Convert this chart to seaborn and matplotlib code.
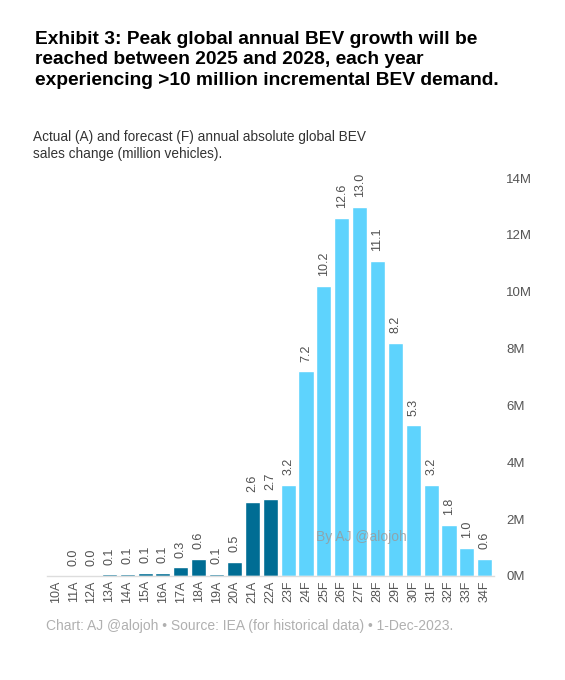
import pandas as pd
import numpy as np
import matplotlib.pyplot as plt
import seaborn as sns

# Data (million vehicles)
years = ['10A', '11A', '12A', '13A', '14A', '15A', '16A', '17A', '18A', '19A', '20A', '21A', '22A',
         '23F', '24F', '25F', '26F', '27F', '28F', '29F', '30F', '31F', '32F', '33F', '34F']
change = [0.0, 0.0, 0.0, 0.06, 0.08, 0.1, 0.1, 0.3, 0.6, 0.08, 0.5, 2.6, 2.7,
          3.2, 7.2, 10.2, 12.6, 13.0, 11.1, 8.2, 5.3, 3.2, 1.8, 1.0, 0.6]
bar_labels = ['', '0.0', '0.0', '0.1', '0.1', '0.1', '0.1', '0.3', '0.6', '0.1', '0.5', '2.6', '2.7',
              '3.2', '7.2', '10.2', '12.6', '13.0', '11.1', '8.2', '5.3', '3.2', '1.8', '1.0', '0.6']
period = ['Actual' if y.endswith('A') else 'Forecast' for y in years]
yticks = [0, 2, 4, 6, 8, 10, 12, 14]

df = pd.DataFrame({'year': years, 'change': change, 'period': period})

sns.set_theme(style='white')
plt.rcParams['font.family'] = ['Liberation Sans', 'DejaVu Sans']

fig = plt.figure(figsize=(5.65, 6.8), dpi=100)
ax = fig.add_axes([0.0828, 0.153, 0.791, 0.585])

sns.barplot(data=df, x='year', y='change', hue='period', dodge=False,
            palette={'Actual': '#006d94', 'Forecast': '#5ed3fd'},
            width=0.84, legend=False, ax=ax, saturation=1)

for patch, lab in zip(ax.patches, bar_labels):
    if not lab:
        continue
    x = patch.get_x() + patch.get_width() / 2
    ax.annotate(lab, (x, patch.get_height()), xytext=(0, 7), textcoords='offset points',
                rotation=90, ha='center', va='bottom', fontsize=9, color='#505050',
                annotation_clip=False)

ax.set_xlim(-0.5, len(years) - 0.5)
ax.set_ylim(0, 14)
ax.set_yticks(yticks)
ax.set_yticklabels([f'{v}M' for v in yticks])
ax.yaxis.tick_right()
ax.tick_params(axis='y', length=0, pad=9, labelsize=9.5, labelcolor='#555555')
ax.tick_params(axis='x', length=0, pad=3, labelsize=9, labelcolor='#555555', rotation=90)
ax.set_xlabel('')
ax.set_ylabel('')
for s in ['top', 'left', 'right']:
    ax.spines[s].set_visible(False)
ax.spines['bottom'].set_color('#dddddd')
ax.spines['bottom'].set_linewidth(1)

fig.text(0.062, 0.955, 'Exhibit 3: Peak global annual BEV growth will be\n'
         'reached between 2025 and 2028, each year\n'
         'experiencing >10 million incremental BEV demand.',
         fontsize=13.8, fontweight='bold', color='black', va='top', ha='left', linespacing=1.3)
fig.text(0.058, 0.809, 'Actual (A) and forecast (F) annual absolute global BEV\n'
         'sales change (million vehicles).',
         fontsize=9.8, color='#333333', va='top', ha='left', linespacing=1.3)
fig.text(0.56, 0.21, 'By AJ @alojoh', fontsize=10, color='#999999', alpha=0.8, ha='left', va='center')
fig.text(0.082, 0.079, 'Chart: AJ @alojoh \u2022 Source: IEA (for historical data) \u2022 1-Dec-2023.',
         fontsize=10, color='#b0b0b0', ha='left', va='center')

fig.savefig('out.png', dpi=100)
